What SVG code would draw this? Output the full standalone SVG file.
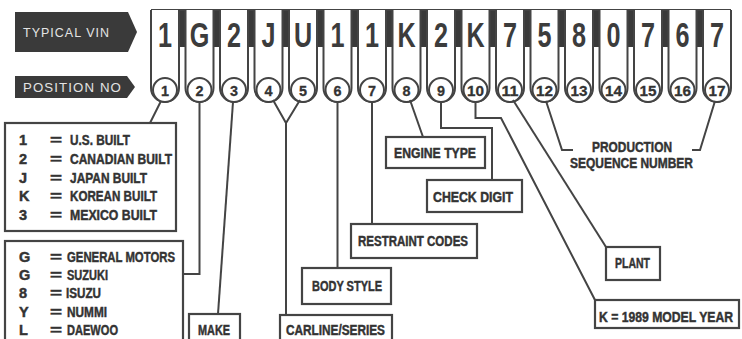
<svg xmlns="http://www.w3.org/2000/svg" width="742" height="339" viewBox="0 0 742 339">
<style>
.bg{fill:#ffffff}
.tag{fill:#3a3a3a}
.tagt{fill:#e4e4e4;font-family:"Liberation Sans",Arial,sans-serif;font-size:12px;letter-spacing:1px}
.tab{fill:#ffffff;stroke:#444;stroke-width:2}
.gap{fill:#3a3a3a}
.ring{fill:#ffffff;stroke:#444;stroke-width:2}
.dig{fill:#3c3c3c;font-family:"Liberation Sans",Arial,sans-serif;font-weight:bold;font-size:35px;text-anchor:middle}
.num{fill:#333;font-family:"Liberation Sans",Arial,sans-serif;font-weight:bold;font-size:15px;text-anchor:middle;stroke:#333;stroke-width:0.3}
.box{fill:#ffffff;stroke:#444;stroke-width:2.2}
.lbl{fill:#333;font-family:"Liberation Sans",Arial,sans-serif;font-weight:bold;font-size:14.5px;stroke:#333;stroke-width:0.45}
.con{fill:none;stroke:#444;stroke-width:2;stroke-linejoin:miter}
</style>
<rect class="bg" x="0" y="0" width="742" height="339"/>

<g id="label-typical-vin">
<path class="tag" d="M15,12 H128 L137,32 L128,52 H15 Z"/>
<text class="tagt" x="23" y="37" textLength="87" lengthAdjust="spacingAndGlyphs">TYPICAL VIN</text>
</g>
<g id="label-position-no">
<path class="tag" d="M15,76 H127 L135,87 L127,98 H15 Z"/>
<text class="tagt" x="23" y="92" textLength="99" lengthAdjust="spacingAndGlyphs">POSITION NO</text>
</g>

<g id="vin-strip">
<rect class="gap" x="179" y="10" width="7.5" height="37"/>
<rect class="gap" x="213.5" y="10" width="7.5" height="37"/>
<rect class="gap" x="248" y="10" width="7.5" height="37"/>
<rect class="gap" x="282.5" y="10" width="7.5" height="37"/>
<rect class="gap" x="317" y="10" width="7.5" height="37"/>
<rect class="gap" x="351.5" y="10" width="7.5" height="37"/>
<rect class="gap" x="386" y="10" width="7.5" height="37"/>
<rect class="gap" x="420.5" y="10" width="7.5" height="37"/>
<rect class="gap" x="455" y="10" width="7.5" height="37"/>
<rect class="gap" x="489.5" y="10" width="7.5" height="37"/>
<rect class="gap" x="524" y="10" width="7.5" height="37"/>
<rect class="gap" x="558.5" y="10" width="7.5" height="37"/>
<rect class="gap" x="593" y="10" width="7.5" height="37"/>
<rect class="gap" x="627.5" y="10" width="7.5" height="37"/>
<rect class="gap" x="662" y="10" width="7.5" height="37"/>
<rect class="gap" x="696.5" y="10" width="7.5" height="37"/>
<line x1="151" y1="10" x2="731" y2="10" stroke="#444" stroke-width="2"/>
</g>

<g id="pos1"><path class="tab" d="M151,10 V88 A14,14 0 0 0 179,88 V10"/><circle class="ring" cx="165" cy="90" r="12"/><text class="dig" transform="translate(165 47) scale(0.72 1)">1</text><text class="num" x="165" y="96" textLength="8" lengthAdjust="spacingAndGlyphs">1</text></g>
<g id="pos2"><path class="tab" d="M185.5,10 V88 A14,14 0 0 0 213.5,88 V10"/><circle class="ring" cx="199.5" cy="90" r="12"/><text class="dig" transform="translate(199.5 47) scale(0.72 1)">G</text><text class="num" x="199.5" y="96" textLength="8" lengthAdjust="spacingAndGlyphs">2</text></g>
<g id="pos3"><path class="tab" d="M220,10 V88 A14,14 0 0 0 248,88 V10"/><circle class="ring" cx="234" cy="90" r="12"/><text class="dig" transform="translate(234 47) scale(0.72 1)">2</text><text class="num" x="234" y="96" textLength="8" lengthAdjust="spacingAndGlyphs">3</text></g>
<g id="pos4"><path class="tab" d="M254.5,10 V88 A14,14 0 0 0 282.5,88 V10"/><circle class="ring" cx="268.5" cy="90" r="12"/><text class="dig" transform="translate(268.5 47) scale(0.72 1)">J</text><text class="num" x="268.5" y="96" textLength="8" lengthAdjust="spacingAndGlyphs">4</text></g>
<g id="pos5"><path class="tab" d="M289,10 V88 A14,14 0 0 0 317,88 V10"/><circle class="ring" cx="303" cy="90" r="12"/><text class="dig" transform="translate(303 47) scale(0.72 1)">U</text><text class="num" x="303" y="96" textLength="8" lengthAdjust="spacingAndGlyphs">5</text></g>
<g id="pos6"><path class="tab" d="M323.5,10 V88 A14,14 0 0 0 351.5,88 V10"/><circle class="ring" cx="337.5" cy="90" r="12"/><text class="dig" transform="translate(337.5 47) scale(0.72 1)">1</text><text class="num" x="337.5" y="96" textLength="8" lengthAdjust="spacingAndGlyphs">6</text></g>
<g id="pos7"><path class="tab" d="M358,10 V88 A14,14 0 0 0 386,88 V10"/><circle class="ring" cx="372" cy="90" r="12"/><text class="dig" transform="translate(372 47) scale(0.72 1)">1</text><text class="num" x="372" y="96" textLength="8" lengthAdjust="spacingAndGlyphs">7</text></g>
<g id="pos8"><path class="tab" d="M392.5,10 V88 A14,14 0 0 0 420.5,88 V10"/><circle class="ring" cx="406.5" cy="90" r="12"/><text class="dig" transform="translate(406.5 47) scale(0.72 1)">K</text><text class="num" x="406.5" y="96" textLength="8" lengthAdjust="spacingAndGlyphs">8</text></g>
<g id="pos9"><path class="tab" d="M427,10 V88 A14,14 0 0 0 455,88 V10"/><circle class="ring" cx="441" cy="90" r="12"/><text class="dig" transform="translate(441 47) scale(0.72 1)">2</text><text class="num" x="441" y="96" textLength="8" lengthAdjust="spacingAndGlyphs">9</text></g>
<g id="pos10"><path class="tab" d="M461.5,10 V88 A14,14 0 0 0 489.5,88 V10"/><circle class="ring" cx="475.5" cy="90" r="12"/><text class="dig" transform="translate(475.5 47) scale(0.72 1)">K</text><text class="num" x="475.5" y="96" textLength="17" lengthAdjust="spacingAndGlyphs">10</text></g>
<g id="pos11"><path class="tab" d="M496,10 V88 A14,14 0 0 0 524,88 V10"/><circle class="ring" cx="510" cy="90" r="12"/><text class="dig" transform="translate(510 47) scale(0.72 1)">7</text><text class="num" x="510" y="96" textLength="17" lengthAdjust="spacingAndGlyphs">11</text></g>
<g id="pos12"><path class="tab" d="M530.5,10 V88 A14,14 0 0 0 558.5,88 V10"/><circle class="ring" cx="544.5" cy="90" r="12"/><text class="dig" transform="translate(544.5 47) scale(0.72 1)">5</text><text class="num" x="544.5" y="96" textLength="17" lengthAdjust="spacingAndGlyphs">12</text></g>
<g id="pos13"><path class="tab" d="M565,10 V88 A14,14 0 0 0 593,88 V10"/><circle class="ring" cx="579" cy="90" r="12"/><text class="dig" transform="translate(579 47) scale(0.72 1)">8</text><text class="num" x="579" y="96" textLength="17" lengthAdjust="spacingAndGlyphs">13</text></g>
<g id="pos14"><path class="tab" d="M599.5,10 V88 A14,14 0 0 0 627.5,88 V10"/><circle class="ring" cx="613.5" cy="90" r="12"/><text class="dig" transform="translate(613.5 47) scale(0.72 1)">0</text><text class="num" x="613.5" y="96" textLength="17" lengthAdjust="spacingAndGlyphs">14</text></g>
<g id="pos15"><path class="tab" d="M634,10 V88 A14,14 0 0 0 662,88 V10"/><circle class="ring" cx="648" cy="90" r="12"/><text class="dig" transform="translate(648 47) scale(0.72 1)">7</text><text class="num" x="648" y="96" textLength="17" lengthAdjust="spacingAndGlyphs">15</text></g>
<g id="pos16"><path class="tab" d="M668.5,10 V88 A14,14 0 0 0 696.5,88 V10"/><circle class="ring" cx="682.5" cy="90" r="12"/><text class="dig" transform="translate(682.5 47) scale(0.72 1)">6</text><text class="num" x="682.5" y="96" textLength="17" lengthAdjust="spacingAndGlyphs">16</text></g>
<g id="pos17"><path class="tab" d="M703,10 V88 A14,14 0 0 0 731,88 V10"/><circle class="ring" cx="717" cy="90" r="12"/><text class="dig" transform="translate(717 47) scale(0.72 1)">7</text><text class="num" x="717" y="96" textLength="17" lengthAdjust="spacingAndGlyphs">17</text></g>

<g id="connectors">
<path class="con" d="M161,101 L150,123"/>
<path class="con" d="M199.5,102 V274 H183"/>
<path class="con" d="M233,102 L218,314"/>
<path class="con" d="M273,100 L286,123 L300,100 M286,123 V315"/>
<path class="con" d="M337.5,102 V268"/>
<path class="con" d="M372,102 V224"/>
<path class="con" d="M410,100 L423,137"/>
<path class="con" d="M441,102 V128 H492 V180"/>
<path class="con" d="M475.5,102 V118 H501 L595,300"/>
<path class="con" d="M513,100 L606,247"/>
<path class="con" d="M546,101 L562,150 H573"/>
<path class="con" d="M715,101 L700,150 H692"/>
</g>

<g id="country-box">
<rect class="box" x="5" y="123" width="171" height="108"/>
<text class="lbl" x="19" y="145">1</text><text class="lbl" x="50" y="145" textLength="12" lengthAdjust="spacingAndGlyphs">=</text><text class="lbl" x="70" y="145" textLength="60" lengthAdjust="spacingAndGlyphs">U.S. BUILT</text>
<text class="lbl" x="19" y="164">2</text><text class="lbl" x="50" y="164" textLength="12" lengthAdjust="spacingAndGlyphs">=</text><text class="lbl" x="70" y="164" textLength="102" lengthAdjust="spacingAndGlyphs">CANADIAN BUILT</text>
<text class="lbl" x="19" y="183">J</text><text class="lbl" x="50" y="183" textLength="12" lengthAdjust="spacingAndGlyphs">=</text><text class="lbl" x="70" y="183" textLength="77" lengthAdjust="spacingAndGlyphs">JAPAN BUILT</text>
<text class="lbl" x="19" y="201">K</text><text class="lbl" x="50" y="201" textLength="12" lengthAdjust="spacingAndGlyphs">=</text><text class="lbl" x="70" y="201" textLength="87" lengthAdjust="spacingAndGlyphs">KOREAN BUILT</text>
<text class="lbl" x="19" y="220">3</text><text class="lbl" x="50" y="220" textLength="12" lengthAdjust="spacingAndGlyphs">=</text><text class="lbl" x="70" y="220" textLength="87" lengthAdjust="spacingAndGlyphs">MEXICO BUILT</text>
</g>

<g id="make-code-box">
<rect class="box" x="5" y="241" width="178" height="110"/>
<text class="lbl" x="19" y="262">G</text><text class="lbl" x="50" y="262" textLength="12" lengthAdjust="spacingAndGlyphs">=</text><text class="lbl" x="67" y="262" textLength="108" lengthAdjust="spacingAndGlyphs">GENERAL MOTORS</text>
<text class="lbl" x="19" y="280">G</text><text class="lbl" x="50" y="280" textLength="12" lengthAdjust="spacingAndGlyphs">=</text><text class="lbl" x="67" y="280" textLength="41" lengthAdjust="spacingAndGlyphs">SUZUKI</text>
<text class="lbl" x="19" y="298">8</text><text class="lbl" x="50" y="298" textLength="12" lengthAdjust="spacingAndGlyphs">=</text><text class="lbl" x="66" y="298" textLength="35" lengthAdjust="spacingAndGlyphs">ISUZU</text>
<text class="lbl" x="19" y="317">Y</text><text class="lbl" x="50" y="317" textLength="12" lengthAdjust="spacingAndGlyphs">=</text><text class="lbl" x="67" y="317" textLength="40" lengthAdjust="spacingAndGlyphs">NUMMI</text>
<text class="lbl" x="19" y="335">L</text><text class="lbl" x="50" y="335" textLength="12" lengthAdjust="spacingAndGlyphs">=</text><text class="lbl" x="67" y="335" textLength="51" lengthAdjust="spacingAndGlyphs">DAEWOO</text>
</g>

<g id="make"><rect class="box" x="189" y="314" width="51" height="40"/><text class="lbl" x="198" y="335" textLength="32" lengthAdjust="spacingAndGlyphs">MAKE</text></g>
<g id="carline"><rect class="box" x="280" y="315" width="112" height="40"/><text class="lbl" x="286" y="335" textLength="99" lengthAdjust="spacingAndGlyphs">CARLINE/SERIES</text></g>
<g id="body-style"><rect class="box" x="302" y="268" width="89" height="36"/><text class="lbl" x="312" y="291" textLength="70" lengthAdjust="spacingAndGlyphs">BODY STYLE</text></g>
<g id="restraint"><rect class="box" x="351" y="224" width="126" height="34"/><text class="lbl" x="358" y="246" textLength="110" lengthAdjust="spacingAndGlyphs">RESTRAINT CODES</text></g>
<g id="engine"><rect class="box" x="386" y="137" width="99" height="31"/><text class="lbl" x="394" y="158" textLength="82" lengthAdjust="spacingAndGlyphs">ENGINE TYPE</text></g>
<g id="check-digit"><rect class="box" x="427" y="180" width="95" height="32"/><text class="lbl" x="433" y="202" textLength="80" lengthAdjust="spacingAndGlyphs">CHECK DIGIT</text></g>
<g id="plant"><rect class="box" x="606" y="247" width="54" height="33"/><text class="lbl" x="615" y="268" textLength="35" lengthAdjust="spacingAndGlyphs">PLANT</text></g>
<g id="model-year"><rect class="box" x="595" y="300" width="144" height="28"/><text class="lbl" x="599" y="322" textLength="134" lengthAdjust="spacingAndGlyphs">K = 1989 MODEL YEAR</text></g>
<g id="production"><text class="lbl" x="592" y="152" textLength="80" lengthAdjust="spacingAndGlyphs">PRODUCTION</text><text class="lbl" x="570" y="168" textLength="123" lengthAdjust="spacingAndGlyphs">SEQUENCE NUMBER</text></g>
</svg>
